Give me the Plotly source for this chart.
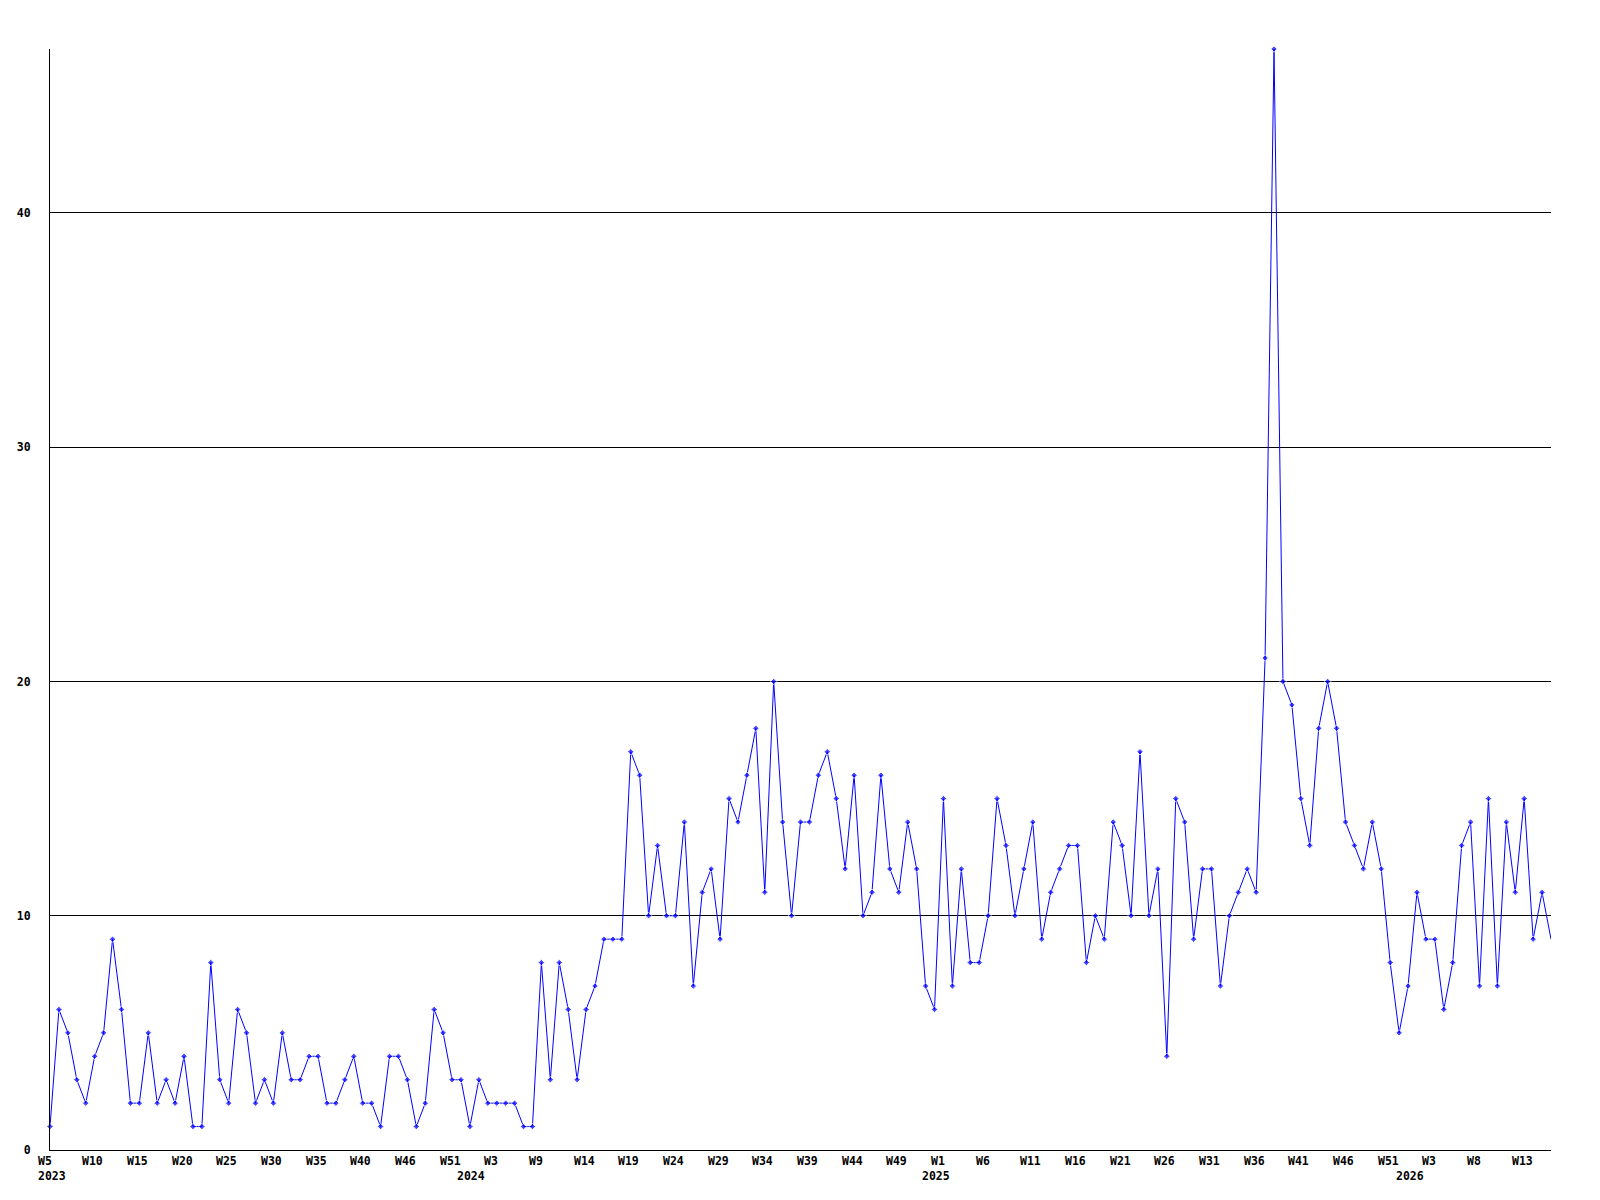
import plotly.graph_objects as go

values = [
    1, 6, 5, 3, 2, 4, 5, 9, 6, 2,
    2, 5, 2, 3, 2, 4, 1, 1, 8, 3,
    2, 6, 5, 2, 3, 2, 5, 3, 3, 4,
    4, 2, 2, 3, 4, 2, 2, 1, 4, 4,
    3, 1, 2, 6, 5, 3, 3, 1, 3, 2,
    2, 2, 2, 1, 1, 8, 3, 8, 6, 3,
    6, 7, 9, 9, 9, 17, 16, 10, 13, 10,
    10, 14, 7, 11, 12, 9, 15, 14, 16, 18,
    11, 20, 14, 10, 14, 14, 16, 17, 15, 12,
    16, 10, 11, 16, 12, 11, 14, 12, 7, 6,
    15, 7, 12, 8, 8, 10, 15, 13, 10, 12,
    14, 9, 11, 12, 13, 13, 8, 10, 9, 14,
    13, 10, 17, 10, 12, 4, 15, 14, 9, 12,
    12, 7, 10, 11, 12, 11, 21, 47, 20, 19,
    15, 13, 18, 20, 18, 14, 13, 12, 14, 12,
    8, 5, 7, 11, 9, 9, 6, 8, 13, 14,
    7, 15, 7, 14, 11, 15, 9, 11, 9,
]

week_labels = [
    "W5", "W10", "W15", "W20", "W25", "W30", "W35", "W40", "W46", "W51",
    "W3", "W9", "W14", "W19", "W24", "W29", "W34", "W39", "W44", "W49",
    "W1", "W6", "W11", "W16", "W21", "W26", "W31", "W36", "W41", "W46",
    "W51", "W3", "W8", "W13",
]
tick_step = 5
year_labels = ["2023", "2024", "2025", "2026"]
year_index = [0, 47, 99, 152]
y_ticks = [0, 10, 20, 30, 40]

x = list(range(len(values)))
tick_pos = [i * tick_step for i in range(len(week_labels))]
marker_sizes = [5] * (len(values) - 1) + [0]

fig = go.Figure()
fig.add_trace(go.Scatter(
    x=x, y=values, mode="lines+markers",
    line=dict(color="#0000FF", width=1),
    marker=dict(color="#0000FF", size=marker_sizes, symbol="diamond"),
    cliponaxis=False,
    hoverinfo="x+y",
))

font = dict(family="DejaVu Sans Mono", size=11.5, color="black", weight="bold")

annotations = []
for pos, lab in zip(tick_pos, week_labels):
    annotations.append(dict(
        x=pos, xref="x", y=0, yref="paper", text=lab, showarrow=False,
        xanchor="left", yanchor="middle", xshift=-14.5, yshift=-11, font=font,
    ))
for pos, lab in zip(year_index, year_labels):
    annotations.append(dict(
        x=pos, xref="x", y=0, yref="paper", text=lab, showarrow=False,
        xanchor="left", yanchor="middle", xshift=-14.5, yshift=-26, font=font,
    ))

fig.update_layout(
    width=1600, height=1200,
    margin=dict(l=42, r=57, t=41, b=58, autoexpand=False),
    paper_bgcolor="white", plot_bgcolor="white",
    showlegend=False,
    annotations=annotations,
    xaxis=dict(
        range=[0, len(values) - 1],
        showticklabels=False, automargin=False,
        showgrid=False, zeroline=False,
        showline=True, linecolor="black", linewidth=1,
        ticks="",
    ),
    yaxis=dict(
        range=[0, 47], automargin=False,
        tickmode="array", tickvals=y_ticks,
        showgrid=True, gridcolor="black", gridwidth=1,
        zeroline=False,
        showline=True, linecolor="black", linewidth=1,
        ticks="", ticklabelstandoff=16,
        tickfont=font,
    ),
)

fig.write_html("out.html")
